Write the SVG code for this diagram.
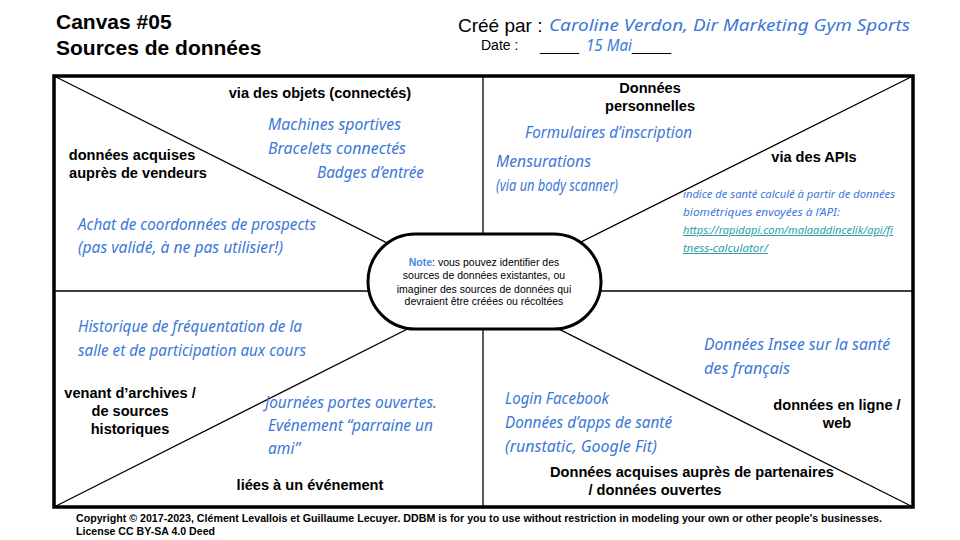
<svg xmlns="http://www.w3.org/2000/svg" width="960" height="540" viewBox="0 0 960 540">
<style>
.t{font-family:"Liberation Sans",Arial,sans-serif;fill:#000}
.b{font-weight:bold;font-size:14.6px}
.c{text-anchor:middle}
.h{font-family:"Noto Sans","DejaVu Sans",sans-serif;font-style:italic;fill:#3c78d8;font-size:16px}
.hs{font-family:"Noto Sans","DejaVu Sans",sans-serif;font-style:italic;fill:#3c78d8;font-size:10px}
.url{fill:#2aa1a8;text-decoration:underline}
.ln{stroke:#000;stroke-width:1.3;fill:none}
</style>
<rect width="960" height="540" fill="#fff"/>
<g id="title">
<text class="t" x="56" y="29" font-size="21" font-weight="bold">Canvas #05</text>
<text class="t" x="56" y="55" font-size="21" font-weight="bold">Sources de données</text>
</g>
<g id="author">
<text class="t" x="458" y="32" font-size="19">Créé par :</text>
<text class="h" x="549" y="30.5" font-size="18.5" textLength="361" lengthAdjust="spacingAndGlyphs">Caroline Verdon, Dir Marketing Gym Sports</text>
<text class="t" x="481" y="50" font-size="14">Date :</text>
<text class="t" x="540" y="51" font-size="14">_____</text>
<text class="h" x="586" y="51" font-size="13.5" textLength="46" lengthAdjust="spacingAndGlyphs">15 Mai</text>
<text class="t" x="632" y="51" font-size="14">_____</text>
</g>
<g id="connectors">
<rect x="54" y="76" width="859" height="431" fill="none" stroke="#000" stroke-width="3.5"/>
<line class="ln" x1="483" y1="76" x2="483" y2="507"/>
<line class="ln" x1="54" y1="291" x2="913" y2="291"/>
<line class="ln" x1="54" y1="76" x2="483" y2="291"/>
<line class="ln" x1="913" y1="76" x2="483" y2="291"/>
<line class="ln" x1="54" y1="507" x2="483" y2="291"/>
<line class="ln" x1="913" y1="507" x2="483" y2="291"/>
</g>
<g id="note">
<rect x="368" y="234" width="233" height="95" rx="47.5" fill="#fff" stroke="#000" stroke-width="3"/>
<text class="t c" font-size="10.5" x="484" y="266"><tspan fill="#4a86e8" font-weight="bold">Note</tspan>: vous pouvez identifier des</text>
<text class="t c" font-size="10.5" x="484" y="279">sources de données existantes, ou</text>
<text class="t c" font-size="10.5" x="484" y="293">imaginer des sources de données qui</text>
<text class="t c" font-size="10.5" x="484" y="305">devraient être créées ou récoltées</text>
</g>
<g id="objets">
<text class="t b c" x="320" y="98">via des objets (connectés)</text>
<text class="h" x="268" y="130" textLength="133" lengthAdjust="spacingAndGlyphs">Machines sportives</text>
<text class="h" x="268" y="154" textLength="138" lengthAdjust="spacingAndGlyphs">Bracelets connectés</text>
<text class="h" x="317" y="178" textLength="107" lengthAdjust="spacingAndGlyphs">Badges d’entrée</text>
</g>
<g id="vendeurs">
<text class="t b c" x="132" y="160">données acquises</text>
<text class="t b c" x="138" y="178">auprès de vendeurs</text>
<text class="h" x="78" y="230" textLength="238" lengthAdjust="spacingAndGlyphs">Achat de coordonnées de prospects</text>
<text class="h" x="78" y="253" textLength="205" lengthAdjust="spacingAndGlyphs">(pas validé, à ne pas utilisier!)</text>
</g>
<g id="personnelles">
<text class="t b c" x="650" y="93">Données</text>
<text class="t b c" x="650" y="111">personnelles</text>
<text class="h" x="525" y="138" textLength="167" lengthAdjust="spacingAndGlyphs">Formulaires d’inscription</text>
<text class="h" x="496" y="167" textLength="95" lengthAdjust="spacingAndGlyphs">Mensurations</text>
<text class="h" x="496" y="191" textLength="122" lengthAdjust="spacingAndGlyphs">(via un body scanner)</text>
</g>
<g id="apis">
<text class="t b c" x="814" y="162">via des APIs</text>
<text class="hs" x="683" y="198" textLength="212" lengthAdjust="spacingAndGlyphs">indice de santé calculé à partir de données</text>
<text class="hs" x="683" y="216" textLength="157" lengthAdjust="spacingAndGlyphs">biométriques envoyées à l’API:</text>
<text class="hs url" x="683" y="234" textLength="210" lengthAdjust="spacingAndGlyphs">https://rapidapi.com/malaaddincelik/api/fi</text>
<text class="hs url" x="683" y="252" textLength="85" lengthAdjust="spacingAndGlyphs">tness-calculator/</text>
</g>
<g id="archives">
<text class="h" x="78" y="332" textLength="224" lengthAdjust="spacingAndGlyphs">Historique de fréquentation de la</text>
<text class="h" x="78" y="356" textLength="228" lengthAdjust="spacingAndGlyphs">salle et de participation aux cours</text>
<text class="t b c" x="130" y="398">venant d’archives /</text>
<text class="t b c" x="130" y="416">de sources</text>
<text class="t b c" x="130" y="434">historiques</text>
</g>
<g id="evenement">
<text class="h" x="265" y="408" textLength="172" lengthAdjust="spacingAndGlyphs">Journées portes ouvertes.</text>
<text class="h" x="268" y="431" textLength="165" lengthAdjust="spacingAndGlyphs">Evénement “parraine un</text>
<text class="h" x="268" y="454" textLength="32" lengthAdjust="spacingAndGlyphs">ami”</text>
<text class="t b c" x="310" y="490">liées à un événement</text>
</g>
<g id="web">
<text class="h" x="704" y="350" textLength="186" lengthAdjust="spacingAndGlyphs">Données Insee sur la santé</text>
<text class="h" x="704" y="374" textLength="86" lengthAdjust="spacingAndGlyphs">des français</text>
<text class="t b c" x="837" y="410">données en ligne /</text>
<text class="t b c" x="837" y="428">web</text>
</g>
<g id="partenaires">
<text class="h" x="505" y="404" textLength="104" lengthAdjust="spacingAndGlyphs">Login Facebook</text>
<text class="h" x="505" y="428" textLength="167" lengthAdjust="spacingAndGlyphs">Données d’apps de santé</text>
<text class="h" x="505" y="452" textLength="152" lengthAdjust="spacingAndGlyphs">(runstatic, Google Fit)</text>
<text class="t b c" x="692" y="477">Données acquises auprès de partenaires</text>
<text class="t b c" x="655" y="495">/ données ouvertes</text>
</g>
<g id="footer">
<text class="t" x="76" y="522" font-size="10.5" font-weight="bold" textLength="806" lengthAdjust="spacingAndGlyphs">Copyright © 2017-2023, Clément Levallois et Guillaume Lecuyer. DDBM is for you to use without restriction in modeling your own or other people's businesses.</text>
<text class="t" x="76" y="535" font-size="10.5" font-weight="bold" textLength="139" lengthAdjust="spacingAndGlyphs">License CC BY-SA 4.0 Deed</text>
</g>
</svg>
